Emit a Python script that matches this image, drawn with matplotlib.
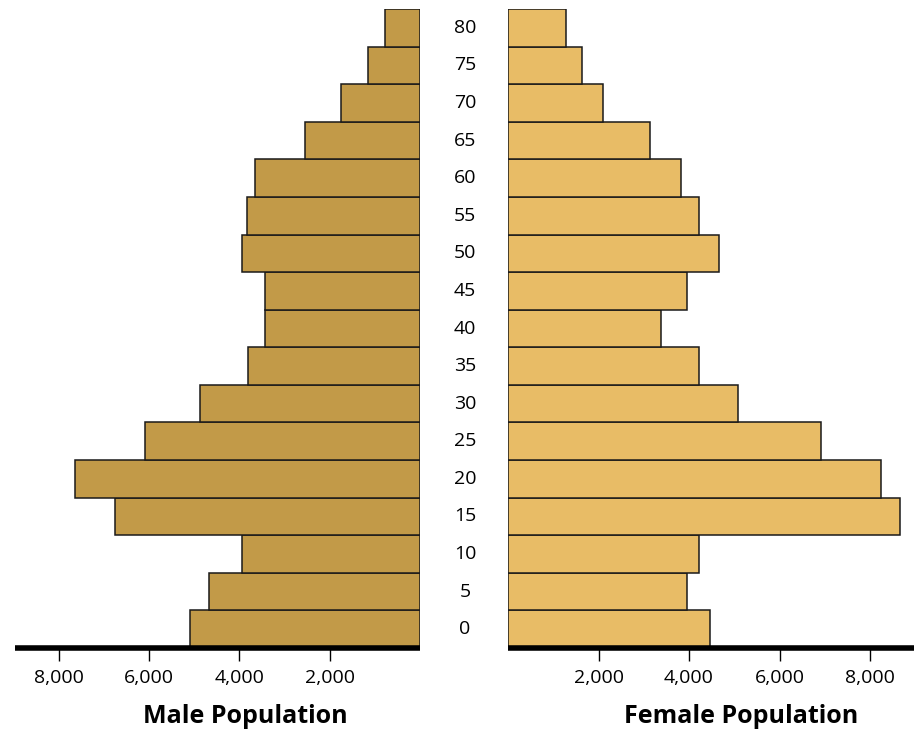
import numpy as np
import matplotlib.pyplot as plt

ages = [0, 5, 10, 15, 20, 25, 30, 35, 40, 45, 50, 55, 60, 65, 70, 75, 80]
male = [5100, 4670, 3940, 6750, 7640, 6090, 4880, 3810, 3430, 3430, 3940, 3830, 3650, 2550, 1750, 1160, 780]
female = [4470, 3960, 4230, 8660, 8240, 6920, 5090, 4230, 3370, 3960, 4670, 4230, 3830, 3130, 2090, 1630, 1270]
ticks = [2000, 4000, 6000, 8000]
tick_labels = ["2,000", "4,000", "6,000", "8,000"]

plt.rcParams['font.family'] = ['Open Sans', 'DejaVu Sans']

fig = plt.figure(figsize=(9.21, 7.31), dpi=100)
axL = fig.add_axes([0.0163, 0.1135, 0.4397, 0.8742])
axR = fig.add_axes([0.5516, 0.1135, 0.4408, 0.8742])

y = np.arange(len(ages))

axL.barh(y, male, height=1.0, color="#C29A48", edgecolor="#1a1a1a", linewidth=1.1)
axR.barh(y, female, height=1.0, color="#E8BC66", edgecolor="#1a1a1a", linewidth=1.1)

for ax in (axL, axR):
    ax.set_ylim(-0.5, len(ages) - 0.5)
    ax.set_xlim(0, 8970)
    ax.set_yticks([])
    for s in ("top", "left", "right"):
        ax.spines[s].set_visible(False)
    ax.spines["bottom"].set_linewidth(4)
    ax.spines["bottom"].set_capstyle("butt")
    ax.set_xticks(ticks)
    ax.set_xticklabels(tick_labels)
    ax.tick_params(axis="x", direction="out", length=9, width=1, labelsize=14, pad=6)

axL.invert_xaxis()

axL.set_xlabel("Male Population", fontsize=18, fontweight="bold")
axR.set_xlabel("Female Population", fontsize=18, fontweight="bold")
axL.xaxis.set_label_coords(0.568, -0.087)
axR.xaxis.set_label_coords(0.574, -0.087)

for i, a in enumerate(ages):
    fig.text(0.505, 0.1135 + 0.8742 * (i + 0.5) / len(ages), str(a),
             ha="center", va="center", fontsize=14)

fig.savefig("out.png", dpi=100)
